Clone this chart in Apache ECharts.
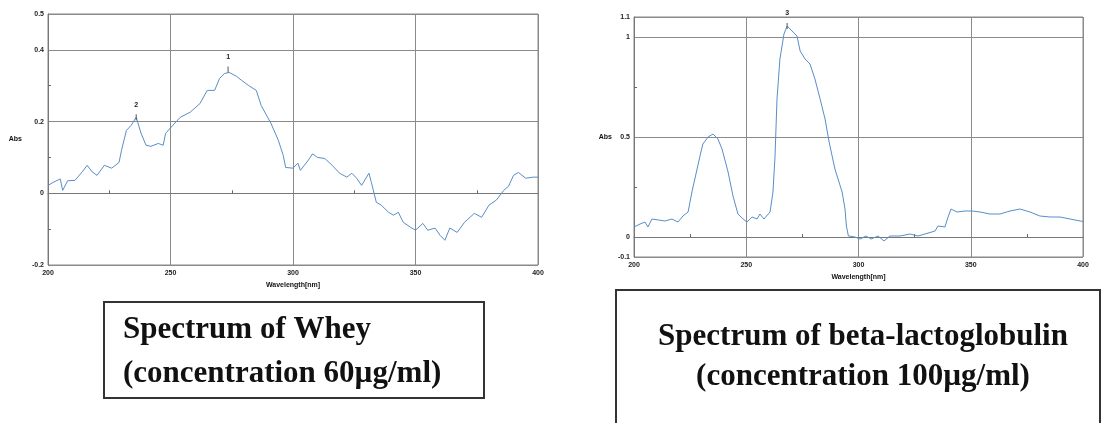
<!DOCTYPE html>
<html>
<head>
<meta charset="utf-8">
<script src="https://cdn.jsdelivr.net/npm/echarts@6/dist/echarts.min.js"></script>
<style>
  html, body { margin: 0; padding: 0; background: #fff; }
  #chart { width: 1102px; height: 423px; }
</style>
</head>
<body>
<div id="chart"></div>
<script>
// wavelength (nm) / absorbance pairs
const wheyData = [
  [200, 0.022], [202, 0.03], [205, 0.04], [206, 0.008], [208, 0.035], [211, 0.036],
  [214, 0.06], [216, 0.078], [218, 0.06], [220, 0.05], [223, 0.078], [226, 0.07],
  [229, 0.086], [230, 0.12], [232, 0.175], [234, 0.19], [236, 0.212], [238, 0.167],
  [240, 0.134], [242, 0.131], [245, 0.139], [247, 0.134], [248, 0.167], [251, 0.19],
  [254, 0.212], [258, 0.226], [262, 0.25], [265, 0.287], [268, 0.287], [270, 0.32],
  [272, 0.334], [274, 0.337], [277, 0.326], [279, 0.315], [282, 0.3], [285, 0.287],
  [287, 0.245], [291, 0.195], [294, 0.148], [296, 0.106], [297, 0.072], [300, 0.07],
  [302, 0.084], [303, 0.064], [306, 0.09], [308, 0.11], [310, 0.1], [313, 0.097],
  [316, 0.078], [319, 0.056], [322, 0.045], [324, 0.056], [326, 0.042], [328, 0.022],
  [331, 0.056], [332, 0.03], [334, -0.025], [336, -0.033], [339, -0.053], [341, -0.061],
  [343, -0.053], [345, -0.081], [348, -0.095], [350, -0.103], [353, -0.084], [355, -0.103],
  [358, -0.097], [360, -0.117], [362, -0.131], [364, -0.097], [367, -0.109], [370, -0.081],
  [374, -0.056], [377, -0.067], [380, -0.033], [383, -0.019], [386, 0.008], [388, 0.02],
  [390, 0.05], [392, 0.058], [395, 0.042], [398, 0.045], [400, 0.045]
]
const blgData = [
  [200, 0.05], [202.7, 0.065], [204.9, 0.075], [206.2, 0.05], [208, 0.09], [211, 0.085],
  [213.8, 0.08], [216.9, 0.09], [219.6, 0.075], [221.8, 0.105], [224.1, 0.125], [225.8, 0.225],
  [228.1, 0.34], [229.8, 0.425], [230.7, 0.465], [233, 0.5], [235.2, 0.515], [237.4, 0.49],
  [239.2, 0.44], [241.9, 0.325], [244.1, 0.205], [246.3, 0.115], [248.6, 0.09], [250.3, 0.075],
  [252.6, 0.1], [254.8, 0.09], [256.1, 0.115], [257.9, 0.09], [260.6, 0.125], [261.9, 0.225],
  [262.8, 0.4], [263.7, 0.69], [265, 0.89], [266.8, 1.015], [268.2, 1.055], [270.4, 1.03],
  [272.6, 1.005], [274, 0.93], [276.2, 0.89], [278.4, 0.865], [280.6, 0.79], [282.9, 0.69],
  [285.1, 0.59], [287, 0.47], [289.5, 0.34], [292.7, 0.225], [294, 0.14], [294.6, 0.055],
  [295.5, 0.005], [298.4, 0], [300.7, -0.01], [303.3, 0.005], [305.6, -0.01], [308.7, 0.005],
  [311.4, -0.02], [314, 0.005], [318.5, 0.005], [322.9, 0.015], [326.5, 0.005], [329.6, 0.015],
  [334.1, 0.03], [335.4, 0.055], [338.5, 0.05], [339.9, 0.1], [341.2, 0.14], [343.9, 0.125],
  [347.4, 0.13], [350.6, 0.13], [354.1, 0.125], [358.6, 0.115], [363, 0.115], [367.5, 0.13],
  [371.9, 0.14], [376.4, 0.125], [380.8, 0.105], [385.3, 0.1], [389.8, 0.1], [394.2, 0.09],
  [398.7, 0.08], [400, 0.078]
]
// peak markers: [wavelength, abs, label]
const wheyPeaks = [[273.5, 0.345, '1'], [236, 0.212, '2']]
const blgPeaks = [[268.2, 1.055, '3']]
const blgTicks = [-0.1, 0, 0.5, 1, 1.1]
const blgMinorTicks = [0.25, 0.75]
const captions = [
  ['Spectrum of Whey', '(concentration 60µg/ml)'],
  ['Spectrum of beta-lactoglobulin', '(concentration 100µg/ml)']
]

const chart = echarts.init(document.getElementById('chart'))

const tickFont = { fontSize: 7, fontWeight: 'bold', color: '#222', fontFamily: 'Liberation Sans' }
const gridLine = { show: true, lineStyle: { color: '#8a8a8a', width: 1 } }
const axisLine = { show: true, lineStyle: { color: '#777', width: 1 } }
const minorTick = { show: true, splitNumber: 2, length: 3, lineStyle: { color: '#666' } }
const captionFont = 'bold 31px "Liberation Serif"'

function xAxis(gridIndex, nameGap) {
  return {
    type: 'value', gridIndex, min: 200, max: 400, interval: 50,
    name: 'Wavelength[nm]', nameLocation: 'middle', nameGap,
    nameTextStyle: { fontSize: 7, fontWeight: 'bold', color: '#111', fontFamily: 'Liberation Sans' },
    axisLine, axisTick: { show: false, inside: true }, minorTick,
    axisLabel: { ...tickFont, margin: 5 },
    splitLine: gridLine
  }
}

function peakMarks(peaks) {
  return {
    symbol: 'rect', symbolSize: [1, 6], silent: true,
    itemStyle: { color: '#555' },
    label: { show: true, position: 'top', distance: 6, fontSize: 7, fontWeight: 'bold', color: '#222',
      formatter: p => p.name },
    data: peaks.map(p => ({ coord: [p[0], p[1]], name: p[2] }))
  }
}

const lineStyle = { color: '#5a8dc8', width: 1 }

chart.setOption({
  animation: false,
  backgroundColor: '#fff',
  grid: [
    { left: 48, top: 14, width: 490, height: 251, show: true, borderColor: '#888', borderWidth: 1 },
    { left: 634, top: 17, width: 449, height: 240, show: true, borderColor: '#888', borderWidth: 1 }
  ],
  xAxis: [xAxis(0, 12), xAxis(1, 11)],
  yAxis: [{
    type: 'value', gridIndex: 0, min: -0.2, max: 0.5, interval: 0.2,
    name: 'Abs', nameLocation: 'middle', nameRotate: 0, nameGap: 26,
    nameTextStyle: { fontSize: 7, fontWeight: 'bold', color: '#111', padding: [14, 0, 0, 0] },
    axisLine, axisTick: { show: false, inside: true }, minorTick,
    axisLabel: { ...tickFont, margin: 4 },
    splitLine: gridLine
  }, {
    type: 'value', gridIndex: 1, min: -0.1, max: 1.1,
    name: 'Abs', nameLocation: 'middle', nameRotate: 0, nameGap: 22,
    nameTextStyle: { fontSize: 7, fontWeight: 'bold', color: '#111', padding: [6, 0, 0, 0] },
    axisLine,
    axisTick: { show: true, inside: true, length: 0, customValues: blgTicks },
    axisLabel: { ...tickFont, margin: 4, customValues: blgTicks },
    splitLine: gridLine
  }, {
    type: 'value', gridIndex: 1, min: -0.1, max: 1.1, position: 'left',
    axisLine: { show: false },
    axisTick: { show: true, inside: true, length: 3, lineStyle: { color: '#666' }, customValues: blgMinorTicks },
    axisLabel: { show: false },
    splitLine: { show: false }
  }],
  series: [{
    type: 'line', xAxisIndex: 0, yAxisIndex: 0, data: wheyData,
    showSymbol: false, lineStyle, markPoint: peakMarks(wheyPeaks)
  }, {
    type: 'line', xAxisIndex: 1, yAxisIndex: 1, data: blgData,
    showSymbol: false, lineStyle, markPoint: peakMarks(blgPeaks)
  }],
  graphic: [
    { type: 'rect', left: 103, top: 301, shape: { width: 380, height: 96 },
      style: { fill: '#fff', stroke: '#333', lineWidth: 2 } },
    { type: 'text', x: 123, y: 330,
      style: { text: captions[0][0], font: captionFont, fill: '#111', verticalAlign: 'middle' } },
    { type: 'text', x: 123, y: 374,
      style: { text: captions[0][1], font: captionFont, fill: '#111', verticalAlign: 'middle' } },
    { type: 'rect', left: 615, top: 289, shape: { width: 484, height: 140 },
      style: { fill: '#fff', stroke: '#333', lineWidth: 2 } },
    { type: 'text', x: 863, y: 337,
      style: { text: captions[1][0], font: captionFont, fill: '#111', align: 'center', verticalAlign: 'middle' } },
    { type: 'text', x: 863, y: 377,
      style: { text: captions[1][1], font: captionFont, fill: '#111', align: 'center', verticalAlign: 'middle' } }
  ]
})
</script>
</body>
</html>
